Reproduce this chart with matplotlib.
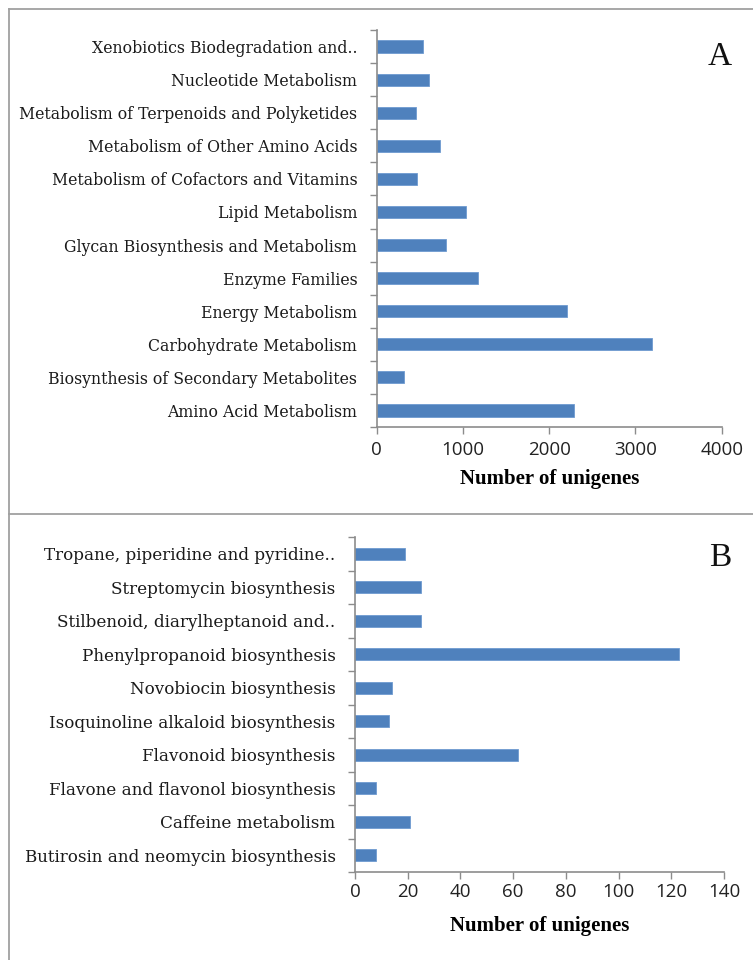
import matplotlib
matplotlib.use("Agg")
import matplotlib.pyplot as plt
from matplotlib.lines import Line2D
import numpy as np

# ---- data ----
cats_a = ["Amino Acid Metabolism", "Biosynthesis of Secondary Metabolites",
          "Carbohydrate Metabolism", "Energy Metabolism", "Enzyme Families",
          "Glycan Biosynthesis and Metabolism", "Lipid Metabolism",
          "Metabolism of Cofactors and Vitamins", "Metabolism of Other Amino Acids",
          "Metabolism of Terpenoids and Polyketides", "Nucleotide Metabolism",
          "Xenobiotics Biodegradation and.."]
vals_a = [2290, 320, 3190, 2210, 1180, 800, 1040, 470, 730, 460, 610, 540]
ticks_a = [0, 1000, 2000, 3000, 4000]

cats_b = ["Butirosin and neomycin biosynthesis", "Caffeine metabolism",
          "Flavone and flavonol biosynthesis", "Flavonoid biosynthesis",
          "Isoquinoline alkaloid biosynthesis", "Novobiocin biosynthesis",
          "Phenylpropanoid biosynthesis", "Stilbenoid, diarylheptanoid and..",
          "Streptomycin biosynthesis", "Tropane, piperidine and pyridine.."]
vals_b = [8, 21, 8, 62, 13, 14, 123, 25, 25, 19]
ticks_b = [0, 20, 40, 60, 80, 100, 120, 140]

xlabel = "Number of unigenes"

W, H = 753, 960
fig = plt.figure(figsize=(W / 100, H / 100), dpi=100)

def fx(px):
    return px / W

def fy(py):
    return 1 - py / H

BAR = "#4F81BD"
EDGE = "#6f9bd0"
SPINE = "#8c8c8c"
SERIF = ["DejaVu Serif"]
TSERIF = ["Liberation Serif", "DejaVu Serif"]
SANS = ["Open Sans", "DejaVu Sans"]

# panel frames
frame_kw = dict(transform=fig.transFigure, color="#a0a0a0", lw=1.3)
fig.add_artist(Line2D([fx(9), fx(9)], [fy(9), fy(960)], **frame_kw))
fig.add_artist(Line2D([fx(9), fx(760)], [fy(9), fy(9)], **frame_kw))
fig.add_artist(Line2D([fx(9), fx(760)], [fy(514), fy(514)], **frame_kw))


def panel(rect_px, cats, vals, ticks, letter, letter_pos, bar_h, tick_pad, lpad, lab_fs):
    x0, y0, x1, y1 = rect_px
    ax = fig.add_axes([fx(x0), fy(y1), fx(x1) - fx(x0), fy(y0) - fy(y1)])
    y = np.arange(len(cats))
    ax.barh(y, vals, height=bar_h, color=BAR, edgecolor=EDGE, linewidth=0.6)
    ax.set_xlim(ticks[0], ticks[-1])
    ax.set_ylim(-0.5, len(cats) - 0.5)
    for s in ["top", "right"]:
        ax.spines[s].set_visible(False)
    for s in ["left", "bottom"]:
        ax.spines[s].set_color(SPINE)
        ax.spines[s].set_linewidth(1.2)
    ax.set_xticks(ticks)
    ax.set_xticklabels([str(t) for t in ticks], family=SANS, fontsize=13.5, color="#222222")
    ax.tick_params(axis="x", direction="out", length=5, width=1.0, color=SPINE, pad=tick_pad)
    ax.set_yticks(np.arange(len(cats) + 1) - 0.5)
    ax.set_yticklabels([])
    ax.tick_params(axis="y", which="major", direction="out", length=5, width=1.0, color=SPINE)
    ax.set_yticks(y, minor=True)
    ax.set_yticklabels(cats, minor=True, family=SERIF, fontsize=lab_fs, color="#1a1a1a")
    ax.tick_params(axis="y", which="minor", length=0, pad=14)
    ax.set_xlabel(xlabel, family=TSERIF, fontsize=15, fontweight="bold", labelpad=lpad)
    ax.patch.set_alpha(0)
    fig.text(fx(letter_pos[0]), fy(letter_pos[1]), letter, family=TSERIF, fontsize=24,
             ha="center", va="center", color="#111111")
    return ax

panel((376.7, 30, 721.7, 427), cats_a, vals_a, ticks_a, "A", (720, 57), 0.37, 5, 7, 11.3)
panel((355, 537, 724, 872), cats_b, vals_b, ticks_b, "B", (720, 558), 0.36, 3, 11, 12.1)

fig.savefig("out.png", dpi=100, facecolor="white")
